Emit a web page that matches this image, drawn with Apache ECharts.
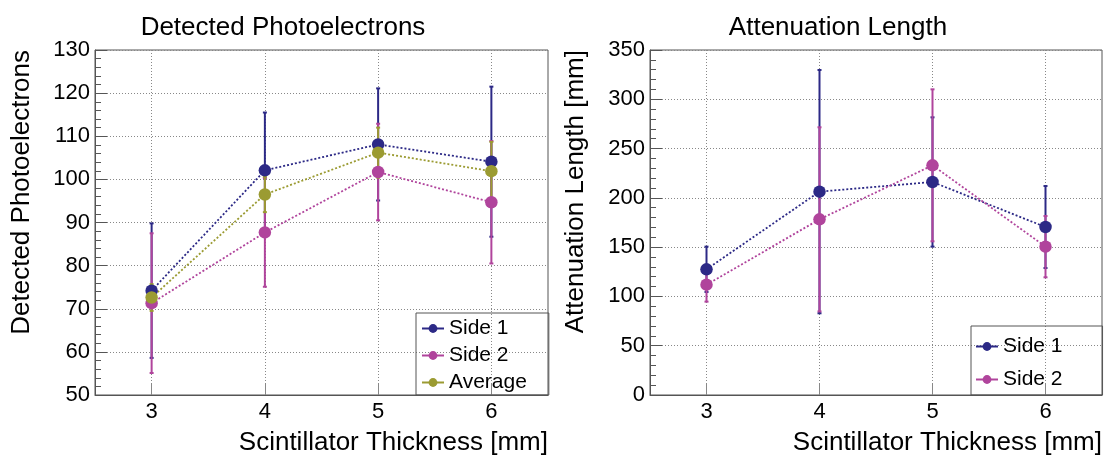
<!DOCTYPE html>
<html>
<head>
<meta charset="utf-8">
<script src="https://cdn.jsdelivr.net/npm/echarts@6/dist/echarts.min.js"></script>
<style>
  html, body { margin: 0; padding: 0; background: #fff; }
  #chart { width: 1108px; height: 455px; }
</style>
</head>
<body>
<div id="chart"></div>
<script>
// Scintillator thickness [mm]
const thickness = [3, 4, 5, 6];
const xTicks = [3, 4, 5, 6];

// Detected photoelectrons
const pe_side1 = [74.2, 102.1, 108.1, 104.1];
const pe_side1_err = [15.6, 13.4, 13.0, 17.4];
const pe_side2 = [71.3, 87.7, 101.7, 94.7];
const pe_side2_err = [16.2, 12.6, 11.2, 14.2];
const pe_avg = [72.6, 96.5, 106.2, 101.9];
const pe_avg_err = [3.1, 4.1, 5.8, 6.8];

// Attenuation length [mm]
const att_side1 = [127.5, 206.3, 216.1, 170.4];
const att_side1_err = [23.0, 123.4, 65.6, 41.6];
const att_side2 = [111.9, 178.2, 233.0, 150.5];
const att_side2_err = [17.2, 93.4, 77.1, 31.1];

const C1 = '#2c2986';
const C2 = '#b0449c';
const C3 = '#9b9b32';
const FONT = '"Liberation Sans", Arial, Helvetica, sans-serif';
const FRAME = '#555';

function points(vals, errs) {
  return thickness.map((t, i) => errs ? [t, vals[i], errs[i]] : [t, vals[i]]);
}

// vertical error bar with short end caps
function errorBar(color) {
  return function (params, api) {
    const x = api.value(0), y = api.value(1), e = api.value(2);
    const top = api.coord([x, y + e]);
    const bot = api.coord([x, y - e]);
    const cap = 2;
    const st = { stroke: color, lineWidth: 2 };
    return {
      type: 'group',
      children: [
        { type: 'line', shape: { x1: top[0], y1: top[1], x2: bot[0], y2: bot[1] }, style: st },
        { type: 'line', shape: { x1: top[0] - cap, y1: top[1], x2: top[0] + cap, y2: top[1] }, style: st },
        { type: 'line', shape: { x1: bot[0] - cap, y1: bot[1], x2: bot[0] + cap, y2: bot[1] }, style: st }
      ]
    };
  };
}

function errSeries(name, idx, vals, errs, color) {
  return {
    name: name, type: 'custom', xAxisIndex: idx, yAxisIndex: idx,
    renderItem: errorBar(color), encode: { x: 0, y: 1 },
    data: points(vals, errs), z: 2, silent: true
  };
}

function lineSeries(name, idx, vals, color) {
  return {
    name: name, type: 'line', xAxisIndex: idx, yAxisIndex: idx,
    data: points(vals), symbol: 'circle', symbolSize: 12.5,
    lineStyle: { color: color, width: 1.8, type: [2, 2] },
    itemStyle: { color: color }, z: 3, animation: false
  };
}

function xAxisDef(idx) {
  return {
    type: 'value', gridIndex: idx, min: 2.5, max: 6.5,
    axisLine: { show: true, lineStyle: { color: FRAME } },
    axisTick: { show: true, inside: true, length: 11, customValues: xTicks, lineStyle: { color: '#888' } },
    axisLabel: { customValues: xTicks, fontSize: 22, fontFamily: FONT, color: '#000', margin: 6 },
    splitLine: { show: true, lineStyle: { color: '#888', type: [1, 2], width: 1 } },
    minorTick: { show: false }
  };
}

function yAxisDef(idx, min, max, interval) {
  return {
    type: 'value', gridIndex: idx, min: min, max: max, interval: interval,
    axisLine: { show: true, lineStyle: { color: FRAME } },
    axisTick: { show: true, inside: true, length: 12, lineStyle: { color: FRAME } },
    minorTick: { show: true, splitNumber: 5, length: 6, lineStyle: { color: FRAME } },
    axisLabel: { fontSize: 22, fontFamily: FONT, color: '#000', margin: 5 },
    splitLine: { show: true, lineStyle: { color: '#888', type: [1, 2], width: 1 } }
  };
}

function legendDef(names, left, top, padding, gap) {
  return {
    data: names.map(n => ({ name: n, lineStyle: { type: 'solid', width: 2 } })),
    orient: 'vertical', left: left, top: top,
    borderColor: FRAME, borderWidth: 1, padding: padding,
    itemWidth: 22, itemHeight: 11, itemGap: gap,
    lineStyle: { type: 'solid', width: 2 },
    textStyle: { fontSize: 21, lineHeight: 21, fontFamily: FONT, color: '#000' },
    selectedMode: false
  };
}

const chart = echarts.init(document.getElementById('chart'), null, { renderer: 'canvas' });

chart.setOption({
  animation: false,
  backgroundColor: '#fff',
  title: [
    { text: 'Detected Photoelectrons', left: 278, top: 10, textAlign: 'center',
      textStyle: { fontSize: 26, fontWeight: 'normal', fontFamily: FONT, color: '#000' } },
    { text: 'Attenuation Length', left: 833, top: 10, textAlign: 'center',
      textStyle: { fontSize: 26, fontWeight: 'normal', fontFamily: FONT, color: '#000' } }
  ],
  grid: [
    { left: 95, top: 50, width: 453, height: 345, show: true, borderColor: FRAME, borderWidth: 1, backgroundColor: 'transparent' },
    { left: 650, top: 50, width: 452, height: 345, show: true, borderColor: FRAME, borderWidth: 1, backgroundColor: 'transparent' }
  ],
  xAxis: [xAxisDef(0), xAxisDef(1)],
  yAxis: [yAxisDef(0, 50, 130, 10), yAxisDef(1, 0, 350, 50)],
  legend: [
    legendDef(['Side 1', 'Side 2', 'Average'], 416, 313, [5, 22, 2, 5], 6),
    legendDef(['Side 1', 'Side 2'], 971, 326, [10, 40, 5, 4], 12)
  ],
  graphic: [
    { type: 'text', x: 22, y: 50, rotation: Math.PI / 2,
      style: { text: 'Detected Photoelectrons', font: '26px ' + FONT, fill: '#000', align: 'right', verticalAlign: 'middle' } },
    { type: 'text', x: 548, y: 443,
      style: { text: 'Scintillator Thickness [mm]', font: '26px ' + FONT, fill: '#000', align: 'right', verticalAlign: 'middle' } },
    { type: 'text', x: 576, y: 50, rotation: Math.PI / 2,
      style: { text: 'Attenuation Length [mm]', font: '26px ' + FONT, fill: '#000', align: 'right', verticalAlign: 'middle' } },
    { type: 'text', x: 1102, y: 443,
      style: { text: 'Scintillator Thickness [mm]', font: '26px ' + FONT, fill: '#000', align: 'right', verticalAlign: 'middle' } }
  ],
  series: [
    errSeries('Side 1 error', 0, pe_side1, pe_side1_err, C1),
    lineSeries('Side 1', 0, pe_side1, C1),
    errSeries('Side 2 error', 0, pe_side2, pe_side2_err, C2),
    lineSeries('Side 2', 0, pe_side2, C2),
    errSeries('Average error', 0, pe_avg, pe_avg_err, C3),
    lineSeries('Average', 0, pe_avg, C3),
    errSeries('Side 1 error', 1, att_side1, att_side1_err, C1),
    lineSeries('Side 1', 1, att_side1, C1),
    errSeries('Side 2 error', 1, att_side2, att_side2_err, C2),
    lineSeries('Side 2', 1, att_side2, C2)
  ]
});
</script>
</body>
</html>
